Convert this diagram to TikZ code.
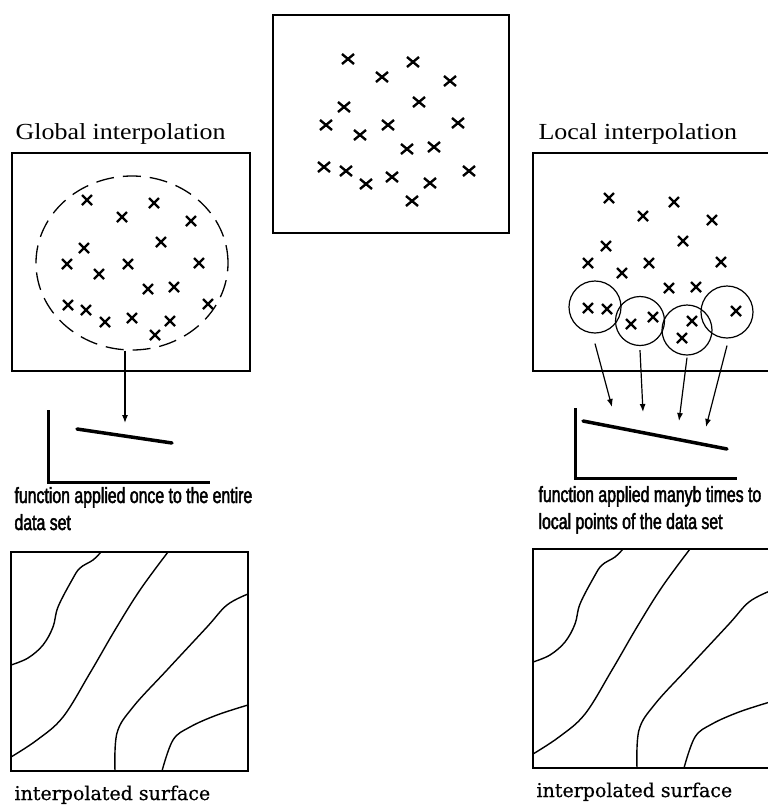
\documentclass[tikz,border=0pt]{standalone}
\usepackage{fontspec}
\setmainfont{Liberation Serif}
\newfontfamily\titfont[FakeStretch=1.13]{Liberation Serif}
\newfontfamily\capfont[FakeStretch=0.72,FakeBold=2]{Liberation Sans}
\newfontfamily\surffont[FakeBold=0.6]{DejaVu Serif}
\usetikzlibrary{arrows.meta,shapes.geometric}

\begin{document}
\begin{tikzpicture}[x=1pt,y=-1pt,
    croce/.style={line width=2.4pt},
    riquadro/.style={line width=1.5pt},
    asse/.style={line width=3pt},
    funzione/.style={line width=3.5pt, line cap=round},
    curva/.style={line width=1.4pt},
    cerchio/.style={circle, draw, line width=1.2pt, inner sep=0pt},
    freccia/.style={line width=1.2pt, -{Latex[length=8pt,width=6pt]}},
    titolo/.style={anchor=base west, font=\titfont\fontsize{23}{27}\selectfont},
    didascalia/.style={anchor=base west, align=left, font=\capfont\fontsize{22}{27}\selectfont},
    superficie/.style={anchor=base west, font=\surffont\fontsize{19}{23}\selectfont}]
    \useasboundingbox (0,0) rectangle (768,807);
    % riquadri
    \draw[riquadro] (273,15) rectangle (509,233);
    \draw[riquadro] (12,153) rectangle (250,371);
    \draw[riquadro] (533,153) rectangle (771,371);
    \foreach \dx/\dy in {0/0, 522/-3} {
        \draw[riquadro] (11+\dx,552+\dy) rectangle (248+\dx,771+\dy);
    }
    % punti dei dati
    \foreach \x/\y in {348/59, 382/77, 413/62, 450/81, 344/107, 419/102, 326/125, 360/135, 388/125, 458/123,
                       407/149, 434/147, 324/167, 346/171, 366/184, 392/177, 430/183, 469/171, 412/201} {
        \draw[croce] (\x-6,\y-5) -- (\x+6,\y+5) (\x-6,\y+5) -- (\x+6,\y-5);
    }
    \foreach \x/\y in {87/200, 122/217, 154/203, 191/221, 84/248, 161/242, 67/264, 99/274, 128/264, 199/263,
                       148/289, 174/287, 68/305, 86/310, 105/322, 132/318, 170/321, 155/335, 208/304} {
        \draw[croce] (\x-5,\y-5) -- (\x+5,\y+5) (\x-5,\y+5) -- (\x+5,\y-5);
    }
    \foreach \x/\y in {609/198, 643/216, 674/202, 712/220, 606/246, 683/241, 588/263, 622/273, 649/263, 721/262,
                       669/288, 696/287, 588/308, 607/309, 631/324, 653/317, 692/321, 682/338, 736/311} {
        \draw[croce] (\x-5,\y-5) -- (\x+5,\y+5) (\x-5,\y+5) -- (\x+5,\y-5);
    }
    % interpolazione globale
    \node[titolo] (titglob) at (12,139) {Global interpolation};
    \node[ellipse, draw, line width=1.3pt, dash pattern=on 18pt off 9pt, minimum width=192pt, minimum height=174pt] (area) at (132,263) {};
    \coordinate (pg) at (125,423);
    \draw[freccia] ([xshift=-7pt]area.south) -- (pg);
    \draw[asse] (48,410) -- (48,482) -- (210,482);
    \draw[funzione] (77,429) -- (172,443);
    \node[didascalia] (didglob) at (11,530) {function applied once to the entire\\data set};
    % interpolazione locale
    \node[titolo] (titloc) at (535,139) {Local interpolation};
    \node[cerchio, minimum size=52pt] (cer1) at (595,307) {};
    \node[cerchio, minimum size=49pt] (cer2) at (640,321) {};
    \node[cerchio, minimum size=50pt] (cer3) at (687,330) {};
    \node[cerchio, minimum size=52pt] (cer4) at (727,312) {};
    \coordinate (p1) at (612,407);
    \coordinate (p2) at (643,412);
    \coordinate (p3) at (679,421);
    \coordinate (p4) at (706,427);
    \foreach \i/\s in {1/10, 2/4, 3/2, 4/7} {
        \draw[freccia] ([yshift=-\s pt]cer\i.south) -- (p\i);
    }
    \draw[asse] (575,408) -- (575,478) -- (737,478);
    \draw[funzione] (583,421) -- (727,449);
    \node[didascalia] (didloc) at (535,529) {function applied manyb times to\\local points of the data set};
    % superfici interpolate
    \foreach \dx/\dy in {0/0, 522/-3} {
        \begin{scope}[shift={(\dx,\dy)}]
            \draw[curva] plot[smooth, tension=0.6] coordinates {(11,665) (28,658) (43,645) (53,627) (58,607) (72,580) (80,568) (93,560) (101,552)};
            \draw[curva] plot[smooth, tension=0.6] coordinates {(11,757) (37,740) (63,717) (90,673) (115,630) (140,590) (168,552)};
            \draw[curva] plot[smooth, tension=0.6] coordinates {(115,771) (117,733) (133,707) (167,670) (207,627) (227,605) (248,594)};
            \draw[curva] plot[smooth, tension=0.6] coordinates {(162,771) (173,740) (190,727) (217,715) (248,705)};
        \end{scope}
    }
    \node[superficie] (surfglob) at (11,800) {interpolated surface};
    \node[superficie] (surfloc) at (533,797) {interpolated surface};
\end{tikzpicture}
\end{document}
